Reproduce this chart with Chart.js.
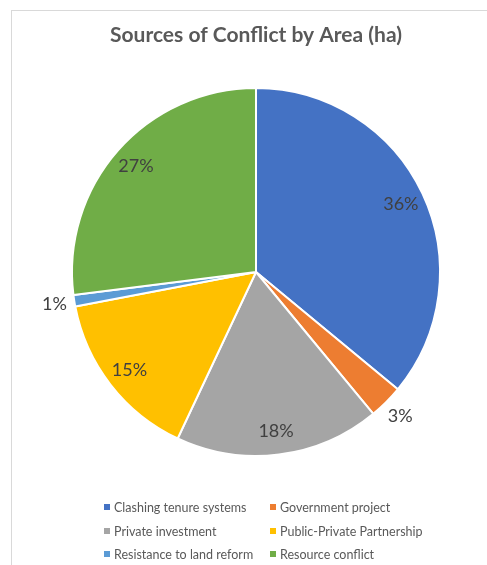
<!DOCTYPE html>
<html>
<head>
<meta charset="utf-8">
<script src="https://cdn.jsdelivr.net/npm/chart.js@4"></script>
<style>
  html, body { margin: 0; padding: 0; background: #fff; }
  #frame { position: absolute; left: 11px; top: 10px; width: 520px; height: 600px;
           border-left: 1px solid #d9d9d9; border-top: 1px solid #d9d9d9; }
  #wrap { position: absolute; left: 0; top: 0; width: 487px; height: 565px; }
</style>
</head>
<body>
<div id="frame"></div>
<div id="wrap"><canvas id="pie" width="487" height="565"></canvas></div>
<script>
// conflict sources, share of area (%)
var categories = [
  "Clashing tenure systems",
  "Government project",
  "Private investment",
  "Public-Private Partnership",
  "Resistance to land reform",
  "Resource conflict"
];
var areaShare = [36, 3, 18, 15, 1, 27];
var sliceColors = ["#4472C4", "#ED7D31", "#A5A5A5", "#FFC000", "#5B9BD5", "#70AD47"];

var FONT = "Lato, 'Noto Sans', sans-serif";

// percentages on the slices; small ones sit just outside the rim
var pctLabels = {
  id: 'pctLabels',
  afterDatasetsDraw: function(chart){
    var ctx = chart.ctx;
    var ds = chart.data.datasets[0];
    var total = ds.data.reduce(function(a, b){ return a + b; }, 0);
    ctx.save();
    ctx.font = "18px " + FONT;
    ctx.fillStyle = "#404040";
    ctx.textAlign = "center";
    ctx.textBaseline = "middle";
    chart.getDatasetMeta(0).data.forEach(function(arc, i){
      var p = arc.getProps(['x', 'y', 'startAngle', 'endAngle', 'outerRadius'], true);
      var mid = (p.startAngle + p.endAngle) / 2;
      var pct = ds.data[i] / total * 100;
      var dist = pct < 5 ? p.outerRadius + 20 : p.outerRadius * 0.87;
      ctx.fillText(Math.round(pct) + "%", p.x + Math.cos(mid) * dist, p.y + Math.sin(mid) * dist);
    });
    ctx.restore();
  }
};

// title and a two-column legend
var frameText = {
  id: 'frameText',
  afterDraw: function(chart){
    var ctx = chart.ctx;
    ctx.save();
    ctx.fillStyle = "#595959";
    ctx.textAlign = "center";
    ctx.textBaseline = "alphabetic";
    ctx.font = "bold 21px " + FONT;
    ctx.fillText("Sources of Conflict by Area (ha)", 256, 42);

    ctx.font = "12.5px " + FONT;
    ctx.textAlign = "left";
    ctx.textBaseline = "middle";
    var colX = [104, 270];
    var rowY = [507, 531, 554];
    chart.data.labels.forEach(function(lbl, i){
      var x = colX[i % 2], y = rowY[Math.floor(i / 2)];
      ctx.fillStyle = chart.data.datasets[0].backgroundColor[i];
      ctx.fillRect(x, y - 3, 6, 6);
      ctx.fillStyle = "#595959";
      ctx.fillText(lbl, x + 10, y + 0.5);
    });
    ctx.restore();
  }
};

new Chart(document.getElementById('pie'), {
  type: 'pie',
  data: {
    labels: categories,
    datasets: [{
      data: areaShare,
      backgroundColor: sliceColors,
      borderColor: "#ffffff",
      borderWidth: 2,
      hoverOffset: 0,
      radius: 184
    }]
  },
  options: {
    responsive: false,
    animation: false,
    events: [],
    layout: { padding: { left: 72, right: 47, top: 88, bottom: 109 } },
    plugins: {
      legend: { display: false },
      title: { display: false },
      tooltip: { enabled: false }
    }
  },
  plugins: [pctLabels, frameText]
});
</script>
</body>
</html>
